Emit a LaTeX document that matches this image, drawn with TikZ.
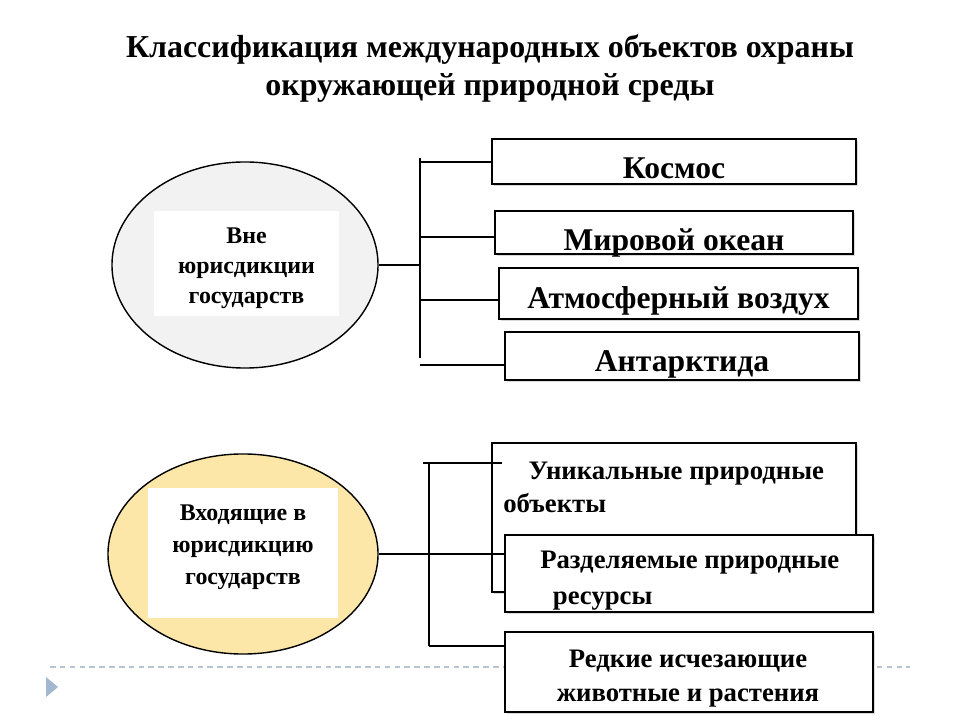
\documentclass[tikz,border=0pt]{standalone}
\usepackage{fontspec}
\setmainfont{Liberation Serif}
\usetikzlibrary{shapes.geometric,shadows}
\definecolor{ellgray}{HTML}{F2F2F2}
\definecolor{ellgold}{HTML}{FCE6A8}
\definecolor{dashc}{HTML}{B8C3D2}
\definecolor{triC}{HTML}{A3B7CF}
\begin{document}
\begin{tikzpicture}[x=0.025cm,y=-0.025cm,
 ell/.style={draw, ellipse, line width=1pt, inner sep=0pt},
 innerbox/.style={fill=white, inner sep=0pt},
 boxst/.style={draw, fill=white, line width=0.9pt, inner sep=0pt,
   drop shadow={shadow xshift=1.2pt, shadow yshift=-1.2pt, opacity=0.3}},
 conn/.style={line width=1.4pt},
 ttl/.style={font=\bfseries\fontsize{22.7}{27}\selectfont, align=center},
 etxt/.style={font=\bfseries\fontsize{17}{21.5}\selectfont, align=center, inner sep=0pt},
 etxtb/.style={font=\bfseries\fontsize{17}{22.7}\selectfont, align=center, inner sep=0pt},
 btxt/.style={font=\bfseries\fontsize{22.5}{26}\selectfont, text depth=0pt},
 stxt/.style={font=\bfseries\fontsize{19}{23.5}\selectfont, inner sep=0pt}]
\useasboundingbox (0,0) rectangle (960,720);

% title
\node[ttl] (title) at (490,69) {Классификация международных объектов охраны\\окружающей природной среды};

% separator and triangle
\draw[dashc, line width=1pt, dash pattern=on 4pt off 3pt] (50,667) -- (910,667);
\fill[triC] (46,677) -- (58,687) -- (46,697) -- cycle;

% top group
\node[ell, fill=ellgray, minimum width=6.65cm, minimum height=5.15cm] (e1) at (245,265) {};
\node[innerbox, minimum width=4.6cm, minimum height=2.6cm] (e1r) at (246.5,263.5) {};
\node[etxt] (e1t) at (246.5,268.5) {Вне\\юрисдикции\\государств};

\node[boxst, btxt, text height=23.5pt, minimum width=9.1cm, minimum height=1.125cm] (k1) at (674,161.5) {Космос};
\node[boxst, btxt, text height=26pt, minimum width=8.95cm, minimum height=1.075cm] (k2) at (674,232.5) {Мировой океан};
\node[boxst, btxt, text height=22pt, minimum width=8.975cm, minimum height=1.275cm] (k3) at (678.5,293.5) {Атмосферный воздух};
\node[boxst, btxt, text height=22.7pt, minimum width=8.85cm, minimum height=1.2cm] (k4) at (682,356) {Антарктида};

\coordinate (b1top) at (420,158);
\coordinate (b1bot) at (420,358);
\coordinate (j1) at (420,162);
\coordinate (j2) at (420,237);
\coordinate (j3) at (420,300);
\coordinate (j4) at (420,365);
\draw[conn] (b1top) -- (b1bot);
\draw[conn] (e1.east) -- (e1.east -| b1top);
\draw[conn] (j1) -- (k1.west |- j1);
\draw[conn] (j2) -- (k2.west |- j2);
\draw[conn] (j3) -- (k3.west |- j3);
\draw[conn] (j4) -- (k4.west |- j4);

% bottom group
\node[ell, fill=ellgold, minimum width=6.75cm, minimum height=5cm] (e2) at (243,554) {};
\node[innerbox, minimum width=4.75cm, minimum height=3.25cm] (e2r) at (243,553) {};
\node[etxtb] (e2t) at (243,547) {Входящие в\\юрисдикцию\\государств};

\node[boxst, minimum width=9.1cm, minimum height=3.725cm] (u1) at (674,517.5) {};
\node[stxt, align=left, anchor=base west] (u1t) at (503,512.5)
  {\hspace*{18pt}Уникальные природные\\объекты};

\coordinate (c1) at (429,463);
\coordinate (c1s) at (423,463);
\coordinate (c1e) at (502,463);
\coordinate (c3) at (429,646);
\draw[conn] (c1s) -- (c1e);
\draw[conn] (c1) -- (c3);

\node[boxst, minimum width=9.2cm, minimum height=1.925cm] (r1) at (689,573.5) {};
\node[stxt, align=left, anchor=base west, font=\bfseries\fontsize{19}{25}\selectfont] (r1t) at (540,604)
  {Разделяемые природные\\\hspace*{9pt}ресурсы};
\draw[conn] (e2.east) -- (e2.east -| r1.west);

\node[boxst, minimum width=9.2cm, minimum height=2cm] (d1) at (689,672) {};
\node[stxt, align=center, anchor=base] (d1t) at (688,701)
  {Редкие исчезающие\\животные и растения};
\draw[conn] (c3) -- (d1.west |- c3);
\end{tikzpicture}
\end{document}
